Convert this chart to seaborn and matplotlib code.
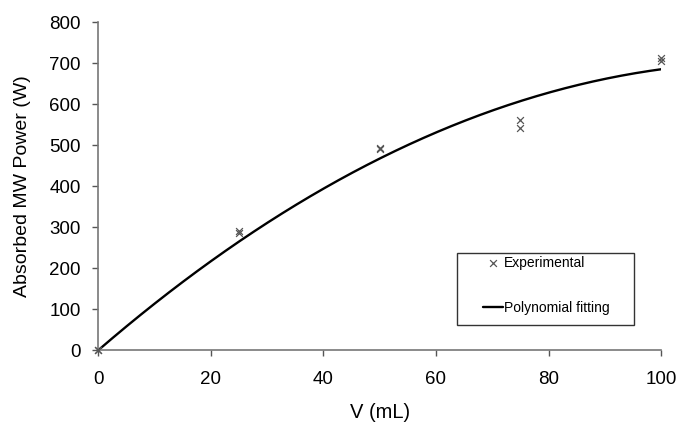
import numpy as np
import pandas as pd
import seaborn as sns
import matplotlib.pyplot as plt
from matplotlib.patches import Rectangle

# experimental points (two repeats per volume)
volume = [0, 0, 25, 25, 50, 50, 75, 75, 100, 100]
power = [0, 0, 290, 285, 493, 490, 562, 543, 712, 705]

df = pd.DataFrame({"V": volume, "P": power})

# 2nd order polynomial fitted through the origin
x = np.array(volume, dtype=float)
A = np.column_stack([x, x ** 2])
coef = np.linalg.lstsq(A, np.array(power, dtype=float), rcond=None)[0]
xfit = np.linspace(0, 100, 200)
fit = pd.DataFrame({"V": xfit, "P": coef[0] * xfit + coef[1] * xfit ** 2})

sns.set_style("white")
plt.rcParams["font.family"] = ["Liberation Sans", "DejaVu Sans"]
plt.rcParams["text.color"] = "black"
plt.rcParams["axes.labelcolor"] = "black"
plt.rcParams["xtick.color"] = "black"
plt.rcParams["ytick.color"] = "black"

fig, ax = plt.subplots(figsize=(6.78, 4.26), dpi=100)
fig.subplots_adjust(left=0.145, right=0.975, bottom=0.178, top=0.948)

sns.lineplot(x="V", y="P", data=fit, color="black", lw=1.7,
             label="Polynomial fitting", ax=ax)
sns.scatterplot(x="V", y="P", data=df, marker="x", color="#555555", s=24, linewidth=0.9,
                label="Experimental", ax=ax, zorder=3, clip_on=False)

ax.set_xlim(0, 100)
ax.set_ylim(0, 800)
ax.set_xticks(range(0, 101, 20))
ax.set_yticks(range(0, 801, 100))
ax.set_xlabel("V (mL)", fontsize=14.5, labelpad=11)
ax.set_ylabel("Absorbed MW Power (W)", fontsize=14, labelpad=13.5)
ax.tick_params(axis="both", labelsize=13.5, length=4, width=1, color="#555555",
               direction="out", bottom=True, left=True)
ax.tick_params(axis="x", pad=11)
ax.tick_params(axis="y", pad=8.5)

sns.despine(ax=ax)
for s in ["left", "bottom"]:
    ax.spines[s].set_color("#777777")
    ax.spines[s].set_linewidth(1.2)

handles, labels = ax.get_legend_handles_labels()
order = [labels.index("Experimental"), labels.index("Polynomial fitting")]
leg = ax.legend([handles[i] for i in order], [labels[i] for i in order],
                loc="upper left", bbox_to_anchor=(0.684, 0.287), borderaxespad=0,
                fontsize=10, frameon=False, borderpad=0, labelspacing=2.2,
                handlelength=1.45, handletextpad=0.05)

# legend box drawn separately to get the wide side margins
ax.add_patch(Rectangle((0.638, 0.076), 0.314, 0.22, transform=ax.transAxes,
                       fill=False, edgecolor="#333333", lw=1.0, zorder=4))

plt.savefig("out.png", dpi=100)
